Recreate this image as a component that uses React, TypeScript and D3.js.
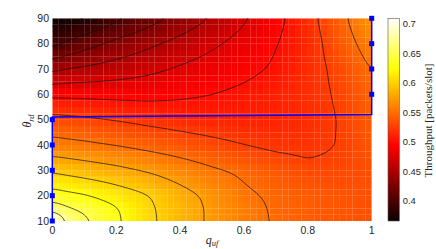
import * as d3 from 'd3';
import React, { useEffect, useRef } from 'react';

// points the surface was read at
const qUf = [0, 0.05, 0.1, 0.2, 0.3, 0.4, 0.5, 0.6, 0.7, 0.8, 0.9, 1];
const thetaRd = [10, 15, 20, 30, 40, 50, 60, 70, 80, 90];

// throughput [packets/slot], one array per theta_rd, along qUf
const tp10 = [0.708, 0.668, 0.655, 0.629, 0.605, 0.587, 0.571, 0.558, 0.548, 0.541, 0.537, 0.535];
const tp15 = [0.665, 0.652, 0.645, 0.627, 0.604, 0.587, 0.571, 0.558, 0.547, 0.541, 0.537, 0.535];
const tp20 = [0.636, 0.631, 0.627, 0.614, 0.601, 0.584, 0.569, 0.554, 0.546, 0.541, 0.537, 0.535];
const tp30 = [0.596, 0.592, 0.588, 0.581, 0.5725, 0.563, 0.553, 0.546, 0.538, 0.530, 0.530, 0.534];
const tp40 = [0.558, 0.556, 0.554, 0.549, 0.543, 0.537, 0.531, 0.525, 0.520, 0.519, 0.526, 0.538];
const tp50 = [0.533, 0.531, 0.529, 0.524, 0.519, 0.515, 0.512, 0.511, 0.512, 0.516, 0.526, 0.541];
const tp60 = [0.495, 0.4945, 0.494, 0.493, 0.493, 0.496, 0.5, 0.505, 0.511, 0.517, 0.528, 0.545];
const tp70 = [0.444, 0.451, 0.454, 0.461, 0.469, 0.478, 0.486, 0.494, 0.503, 0.516, 0.531, 0.551];
const tp80 = [0.393, 0.404, 0.415, 0.432, 0.445, 0.458, 0.471, 0.484, 0.499, 0.514, 0.538, 0.561];
const tp90 = [0.366, 0.368, 0.372, 0.394, 0.414, 0.433, 0.452, 0.472, 0.493, 0.517, 0.543, 0.572];

const contourLevels = [0.375, 0.4, 0.425, 0.45, 0.475, 0.5, 0.525, 0.55, 0.575, 0.6, 0.625, 0.65, 0.675];
const xTicks = [0, 0.2, 0.4, 0.6, 0.8, 1];
const yTicks = [10, 20, 30, 40, 50, 60, 70, 80, 90];
const cbTicks = [0.4, 0.45, 0.5, 0.55, 0.6, 0.65, 0.7];
const cbRange = [0.3655, 0.7097];

// best q_uf for each theta_rd (blue path)
const bestTheta = [10, 20, 30, 40, 50, 51, 52, 60, 70, 80, 90];
const bestQ = [0, 0, 0, 0, 0, 0, 1, 1, 1, 1, 1];

const App = () => {
    const svgRef = useRef(null);

    useEffect(() => {
        const svg = d3.select(svgRef.current);
        svg.selectAll('*').remove();

        const left = 52.3, right = 371.7, top = 18.3, bottom = 221;
        const x = d3.scaleLinear().domain([0, 1]).range([left, right]);
        const y = d3.scaleLinear().domain([10, 90]).range([bottom, top]);

        const [lo, hi] = cbRange;
        const span = hi - lo;
        // matlab "hot"
        const hot = d3.scaleLinear<string>()
            .domain([lo, lo + 0.375 * span, lo + 0.75 * span, hi])
            .range(['#0b0000', '#ff0000', '#ffff00', '#ffffff'])
            .clamp(true);

        // resample onto a fine grid (0.01 x 1 deg)
        const rows = [tp10, tp15, tp20, tp30, tp40, tp50, tp60, tp70, tp80, tp90];
        const rowScales = rows.map(r => d3.scaleLinear().domain(qUf).range(r));
        const nx = 101, ny = 81;
        const grid = new Float64Array(nx * ny);
        for (let i = 0; i < nx; i++) {
            const q = i / (nx - 1);
            const col = d3.scaleLinear().domain(thetaRd).range(rowScales.map(s => s(q)));
            for (let j = 0; j < ny; j++) grid[j * nx + i] = col(10 + j * 80 / (ny - 1));
        }
        d3.blur2({ data: grid, width: nx, height: ny }, 1);

        svg.append('defs').append('clipPath').attr('id', 'plotClip')
            .append('rect')
            .attr('x', left).attr('y', top)
            .attr('width', right - left).attr('height', bottom - top);

        // heat map cells (small overlap, seams stay faint)
        const ncx = 50, ncy = 32;
        const cells = [];
        for (let cj = 0; cj < ncy; cj++) {
            for (let ci = 0; ci < ncx; ci++) {
                const ii = Math.round((ci + 0.5) / ncx * (nx - 1));
                const jj = Math.round((cj + 0.5) / ncy * (ny - 1));
                cells.push({
                    q0: ci / ncx, q1: (ci + 1) / ncx,
                    t0: 10 + cj * 80 / ncy, t1: 10 + (cj + 1) * 80 / ncy,
                    v: grid[jj * nx + ii],
                });
            }
        }
        svg.append('g').attr('clip-path', 'url(#plotClip)')
            .selectAll('rect')
            .data(cells)
            .join('rect')
            .attr('x', d => x(d.q0))
            .attr('y', d => y(d.t1))
            .attr('width', d => x(d.q1) - x(d.q0) + 0.12)
            .attr('height', d => y(d.t0) - y(d.t1) + 0.12)
            .attr('fill', d => hot(d.v));

        // contour lines
        const contours = d3.contours().size([nx, ny]).thresholds(contourLevels)(Array.from(grid));
        const proj = d3.geoTransform({
            point: function (px, py) {
                this.stream.point(x((px - 0.5) / (nx - 1)), y(10 + (py - 0.5) * 80 / (ny - 1)));
            },
        });
        const path = d3.geoPath(proj);
        svg.append('g').attr('clip-path', 'url(#plotClip)')
            .selectAll('path')
            .data(contours)
            .join('path')
            .attr('d', path)
            .attr('fill', 'none')
            .attr('stroke', '#111')
            .attr('stroke-width', 0.7);

        // best path
        const pts = bestTheta.map((t, i) => ({ t, q: bestQ[i] }));
        svg.append('path')
            .datum(pts)
            .attr('d', d3.line().x(d => x(d.q)).y(d => y(d.t)))
            .attr('fill', 'none')
            .attr('stroke', '#0000ff')
            .attr('stroke-width', 1.5);
        svg.append('g').selectAll('rect')
            .data(pts.filter(d => d.t % 10 === 0))
            .join('rect')
            .attr('x', d => x(d.q) - 2.5)
            .attr('y', d => y(d.t) - 2.5)
            .attr('width', 5).attr('height', 5)
            .attr('fill', '#0000ff');

        const tickFont = "'Liberation Sans', Arial, Helvetica, sans-serif";
        const texFont = "'Liberation Serif', 'Times New Roman', serif";
        const ink = '#262626';

        svg.append('g').selectAll('text')
            .data(xTicks)
            .join('text')
            .attr('x', d => x(d))
            .attr('y', 233.8)
            .attr('text-anchor', 'middle')
            .style('font-family', tickFont)
            .style('font-size', '10.5px')
            .attr('fill', ink)
            .text(d => d3.format('~g')(d));

        svg.append('g').selectAll('text')
            .data(yTicks)
            .join('text')
            .attr('x', 49)
            .attr('y', d => y(d))
            .attr('dy', '0.36em')
            .attr('text-anchor', 'end')
            .style('font-family', tickFont)
            .style('font-size', '10.5px')
            .attr('fill', ink)
            .text(d => d);

        // axis labels
        const xl = svg.append('text')
            .attr('x', 212).attr('y', 243.5)
            .attr('text-anchor', 'middle')
            .style('font-family', texFont)
            .style('font-style', 'italic')
            .style('font-size', '12px')
            .attr('fill', ink);
        xl.append('tspan').text('q');
        xl.append('tspan').attr('dy', 2.5).style('font-size', '8.5px').text('uf');

        const yl = svg.append('text')
            .attr('transform', 'translate(31,121) rotate(-90)')
            .attr('text-anchor', 'middle')
            .style('font-family', texFont)
            .style('font-style', 'italic')
            .style('font-size', '12px')
            .attr('fill', ink);
        yl.append('tspan').text('θ');
        yl.append('tspan').attr('dy', 2.5).style('font-size', '8.5px').text('rd');

        // colorbar
        const cbX = 388, cbW = 11.3;
        const cb = d3.scaleLinear().domain([lo, hi]).range([bottom, top]);
        const grad = svg.select('defs').append('linearGradient')
            .attr('id', 'hotGrad')
            .attr('x1', 0).attr('y1', 1).attr('x2', 0).attr('y2', 0);
        grad.selectAll('stop')
            .data(d3.range(0, 1.0001, 0.125))
            .join('stop')
            .attr('offset', d => d)
            .attr('stop-color', d => hot(lo + d * span));
        svg.append('rect')
            .attr('x', cbX).attr('y', cb(hi))
            .attr('width', cbW).attr('height', cb(lo) - cb(hi))
            .attr('fill', 'url(#hotGrad)')
            .attr('stroke', '#555')
            .attr('stroke-width', 0.6);

        svg.append('g').selectAll('text')
            .data(cbTicks)
            .join('text')
            .attr('x', 402.7)
            .attr('y', d => cb(d))
            .attr('dy', '0.36em')
            .style('font-family', tickFont)
            .style('font-size', '9.4px')
            .attr('fill', ink)
            .text(d => d3.format('~g')(d));

        svg.append('text')
            .attr('transform', 'translate(431.5,120.5) rotate(-90)')
            .attr('text-anchor', 'middle')
            .style('font-family', texFont)
            .style('font-size', '11px')
            .attr('fill', ink)
            .text('Throughput [packets/slot]');
    }, []);

    return (
        <svg ref={svgRef} width={436} height={249}
            style={{ position: 'absolute', left: 0, top: 0, background: '#fff' }}></svg>
    );
};

export default App;
